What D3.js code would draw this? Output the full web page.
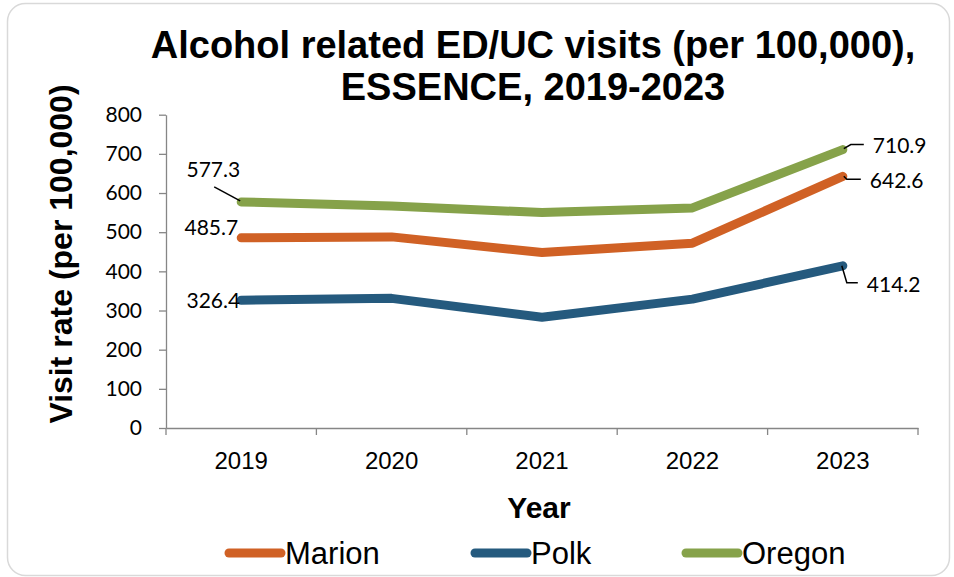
<!DOCTYPE html>
<html>
<head>
<meta charset="utf-8">
<script src="https://cdn.jsdelivr.net/npm/d3@7"></script>
<style>
  body { margin: 0; background: #fff; }
  svg { display: block; }
</style>
</head>
<body>
<svg id="chart"></svg>
<script>
// chart values
const years = ["2019", "2020", "2021", "2022", "2023"];
const marion = [485.7, 488, 448, 472, 642.6];
const polk = [326.4, 331, 283, 329, 414.2];
const oregon = [577.3, 567, 550, 562, 710.9];
const seriesNames = ["Marion", "Polk", "Oregon"];
const yTicks = [0, 100, 200, 300, 400, 500, 600, 700, 800];

const W = 954, H = 577;
const colors = { Marion: "#D06125", Polk: "#255A7E", Oregon: "#86A24A" };
const tickFont = "Lato, 'Open Sans', sans-serif";
const mainFont = "'Liberation Sans', Arial, sans-serif";

const svg = d3.select("#chart").attr("width", W).attr("height", H);

// frame
svg.append("rect")
    .attr("x", 7.5).attr("y", 3.5)
    .attr("width", 942).attr("height", 572)
    .attr("rx", 18)
    .attr("fill", "#fff")
    .attr("stroke", "#d9d9d9")
    .attr("stroke-width", 1.5);

const plot = { left: 166, right: 918, top: 114.7, bottom: 428 };

const xBand = d3.scaleBand().domain(years).range([plot.left, plot.right]);
const x = d => xBand(d) + xBand.bandwidth() / 2;
const y = d3.scaleLinear().domain([0, 800]).range([plot.bottom, plot.top]);

// y axis
const yAxis = svg.append("g")
    .attr("transform", `translate(${plot.left},0)`)
    .call(d3.axisLeft(y).tickValues(yTicks).tickSize(7).tickPadding(17).tickSizeOuter(0));
yAxis.select(".domain").attr("stroke", "#868686").attr("stroke-width", 1.3);
yAxis.selectAll(".tick line").attr("stroke", "#868686").attr("stroke-width", 1.3);
yAxis.selectAll(".tick text")
    .attr("font-family", tickFont).attr("font-size", 21).attr("fill", "#000");

// x axis: labels centred in bands, ticks at band edges
const xAxis = svg.append("g")
    .attr("transform", `translate(0,${plot.bottom})`)
    .call(d3.axisBottom(xBand).tickSize(0).tickPadding(24).tickSizeOuter(0));
xAxis.select(".domain").attr("stroke", "#868686").attr("stroke-width", 1.3);
xAxis.selectAll(".tick text")
    .attr("font-family", mainFont).attr("font-size", 24).attr("fill", "#000");
const edges = years.map(d => xBand(d)).concat([xBand(years[years.length - 1]) + xBand.bandwidth()]);
xAxis.selectAll(".edge")
    .data(edges)
    .enter()
    .append("line")
    .attr("x1", d => d).attr("x2", d => d)
    .attr("y1", 0).attr("y2", 7)
    .attr("stroke", "#868686").attr("stroke-width", 1.3);

// lines
const series = [
    { name: "Marion", values: marion },
    { name: "Polk", values: polk },
    { name: "Oregon", values: oregon },
];
const line = d3.line()
    .x((d, i) => x(years[i]))
    .y(d => y(d));

svg.selectAll(".series")
    .data(series)
    .enter()
    .append("path")
    .attr("d", d => line(d.values))
    .attr("fill", "none")
    .attr("stroke", d => colors[d.name])
    .attr("stroke-width", 9)
    .attr("stroke-linejoin", "round")
    .attr("stroke-linecap", "round");

// data labels (first and last points); offsets relative to the point
const labelSpec = [
    { s: 1, i: 0, dx: -1, dy: 8, anchor: "end", leader: null },
    { s: 0, i: 0, dx: -3, dy: -3, anchor: "end", leader: null },
    { s: 2, i: 0, dx: -1, dy: -25, anchor: "end", leader: [[-1, -1], [-27, -15]] },
    { s: 2, i: 4, dx: 30, dy: 3, anchor: "start", leader: [[1, -1], [8, -5], [21, -5]] },
    { s: 0, i: 4, dx: 27, dy: 12, anchor: "start", leader: [[1, 0], [4, 3], [18, 3]] },
    { s: 1, i: 4, dx: 24, dy: 26, anchor: "start", leader: [[-1, 0], [4, 17], [15, 17]] },
];
labelSpec.forEach(l => {
    const v = series[l.s].values[l.i];
    const px = x(years[l.i]), py = y(v);
    if (l.leader) {
        svg.append("path")
            .attr("d", d3.line()(l.leader.map(p => [px + p[0], py + p[1]])))
            .attr("fill", "none").attr("stroke", "#000").attr("stroke-width", 1.5);
    }
    svg.append("text")
        .attr("x", px + l.dx).attr("y", py + l.dy)
        .attr("text-anchor", l.anchor)
        .attr("font-family", tickFont).attr("font-size", 21)
        .text(d3.format(".1f")(v));
});

// title
const title = svg.append("text")
    .attr("text-anchor", "middle")
    .attr("font-family", mainFont).attr("font-weight", "bold").attr("font-size", 38);
title.append("tspan").attr("x", 533).attr("y", 58).text("Alcohol related ED/UC visits (per 100,000),");
title.append("tspan").attr("x", 533).attr("y", 100).text("ESSENCE, 2019-2023");

// axis titles
svg.append("text")
    .attr("transform", "translate(72,254) rotate(-90)")
    .attr("text-anchor", "middle")
    .attr("font-family", mainFont).attr("font-weight", "bold").attr("font-size", 32)
    .text("Visit rate (per 100,000)");
svg.append("text")
    .attr("x", 539).attr("y", 518)
    .attr("text-anchor", "middle")
    .attr("font-family", mainFont).attr("font-weight", "bold").attr("font-size", 30)
    .text("Year");

// legend
const legendX = [225, 471, 682];
const legend = svg.selectAll(".legend")
    .data(seriesNames)
    .enter()
    .append("g")
    .attr("transform", (d, i) => `translate(${legendX[i]},553)`);
legend.append("line")
    .attr("x1", 4).attr("x2", 56)
    .attr("stroke", d => colors[d])
    .attr("stroke-width", 9)
    .attr("stroke-linecap", "round");
legend.append("text")
    .attr("x", 60).attr("y", 11)
    .attr("font-family", mainFont).attr("font-size", 31)
    .text(d => d);
</script>
</body>
</html>
